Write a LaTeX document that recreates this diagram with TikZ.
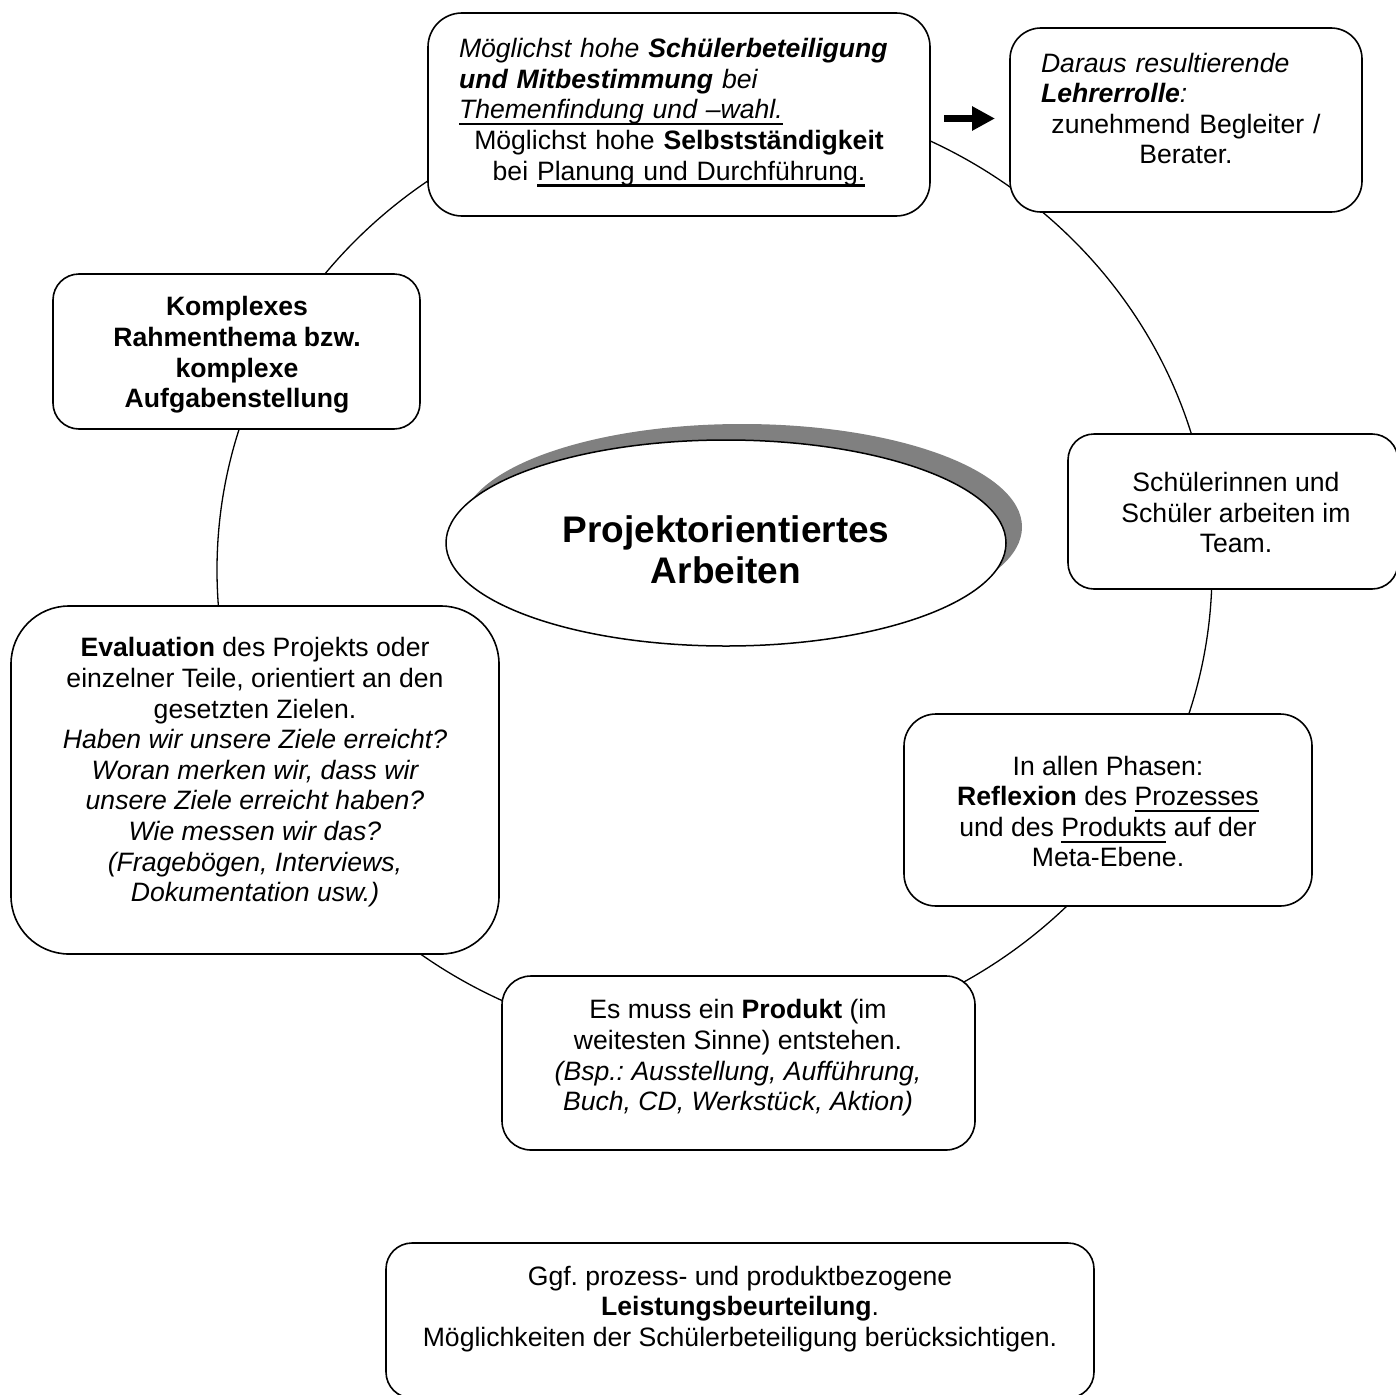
\documentclass[tikz,border=0pt]{standalone}
\usepackage{fontspec}
\setmainfont{Liberation Sans}
\usetikzlibrary{arrows.meta,shapes.geometric}
\definecolor{shadowgray}{HTML}{808080}
\newsavebox\myulbox
\newcommand\myul[1]{\sbox\myulbox{#1}\rlap{\rule[-6.5pt]{\wd\myulbox}{2.2pt}}\usebox\myulbox}
\frenchspacing
\begin{document}
\begin{tikzpicture}[x=1pt,y=-1pt,
  box/.style={draw, line width=1.6pt, fill=white, inner sep=0pt, rectangle},
  txt/.style={align=center, inner sep=0pt, font=\frenchspacing\fontsize{26.6}{30.6}\selectfont},
  cycleline/.style={line width=1.3pt}
]
\useasboundingbox (0,0) rectangle (1396,1394);
\fill[white] (0,0) rectangle (1396,1394);

% the cycle
\draw[cycleline] (714.5,570) ellipse [x radius=497.5, y radius=476];

% boxes
\node[box, rounded corners=34pt, minimum width=502pt, minimum height=203pt] (topbox) at (679,114.5) {};
\node[box, rounded corners=31pt, minimum width=352pt, minimum height=184pt] (lehrerbox) at (1186,120) {};
\node[box, rounded corners=26pt, minimum width=367pt, minimum height=155pt] (komplexbox) at (236.5,351.5) {};
\node[box, rounded corners=26pt, minimum width=330pt, minimum height=155pt] (teambox) at (1233,511.5) {};
\node[box, rounded corners=58pt, minimum width=488pt, minimum height=348pt] (evalbox) at (255,780) {};
\node[box, rounded corners=32pt, minimum width=408pt, minimum height=192pt] (reflexbox) at (1108,810) {};
\node[box, rounded corners=29pt, minimum width=473pt, minimum height=174pt] (produktbox) at (738.5,1063) {};
\node[box, rounded corners=26pt, minimum width=708pt, minimum height=155pt] (leistungbox) at (740,1320.5) {};

% central ellipse with shadow
\fill[shadowgray] (742,527) ellipse [x radius=280, y radius=103];
\node[ellipse, draw, line width=1.5pt, fill=white, inner sep=0pt, minimum width=560pt, minimum height=206pt] (mid) at (726,543) {};
\node[align=center, inner sep=0pt, font=\bfseries\fontsize{37}{41}\selectfont] (midtext) at (726,549.5) {Projektorientiertes\\Arbeiten};

% arrow
\coordinate (arrS) at (944,118.5);
\coordinate (arrE) at (995,118.5);
\draw[line width=7pt, -{Triangle[length=23pt,width=23pt]}] (arrS) -- (arrE);

% texts
\node[txt, text width=440pt] (toptext) at (679,112.5) {%
\makebox[440pt][l]{\itshape Möglichst hohe \bfseries Schülerbeteiligung}\\
\makebox[440pt][l]{\itshape\bfseries und Mitbestimmung\mdseries\ bei}\\
\makebox[440pt][l]{\itshape\myul{Themenfindung und –wahl.}}\\
Möglichst hohe \textbf{Selbstständigkeit}\\
bei \myul{Planung und Durchführung.}};

\node[txt, text width=290pt] (lehrertext) at (1186,108.5) {%
\makebox[290pt][l]{\itshape Daraus resultierende}\\
\makebox[290pt][l]{\itshape\bfseries Lehrerrolle\mdseries:}\\
zunehmend Begleiter /\\
Berater.};

\node[txt, font=\bfseries\fontsize{26.6}{30.6}\selectfont] (komplextext) at (237,355) {Komplexes\\Rahmenthema bzw.\\komplexe\\Aufgabenstellung};

\node[txt] (teamtext) at (1236,512.5) {Schülerinnen und\\Schüler arbeiten im\\Team.};

\node[txt] (evaltext) at (255,772.5) {%
\textbf{Evaluation} des Projekts oder\\
einzelner Teile, orientiert an den\\
gesetzten Zielen.\\
{\itshape Haben wir unsere Ziele erreicht?}\\
{\itshape Woran merken wir, dass wir}\\
{\itshape unsere Ziele erreicht haben?}\\
{\itshape Wie messen wir das?}\\
{\itshape (Fragebögen, Interviews,}\\
{\itshape Dokumentation usw.)}};

\node[txt] (reflextext) at (1108,811.5) {%
In allen Phasen:\\
\textbf{Reflexion} des \myul{Prozesses}\\
und des \myul{Produkts} auf der\\
Meta-Ebene.};

\node[txt] (produkttext) at (738,1058) {%
Es muss ein \textbf{Produkt} (im\\
weitesten Sinne) entstehen.\\
{\itshape (Bsp.: Ausstellung, Aufführung,}\\
{\itshape Buch, CD, Werkstück, Aktion)}};

\node[txt] (leistungtext) at (740,1309) {%
Ggf. prozess- und produktbezogene\\
\textbf{Leistungsbeurteilung}.\\
Möglichkeiten der Schülerbeteiligung berücksichtigen.};
\end{tikzpicture}
\end{document}
